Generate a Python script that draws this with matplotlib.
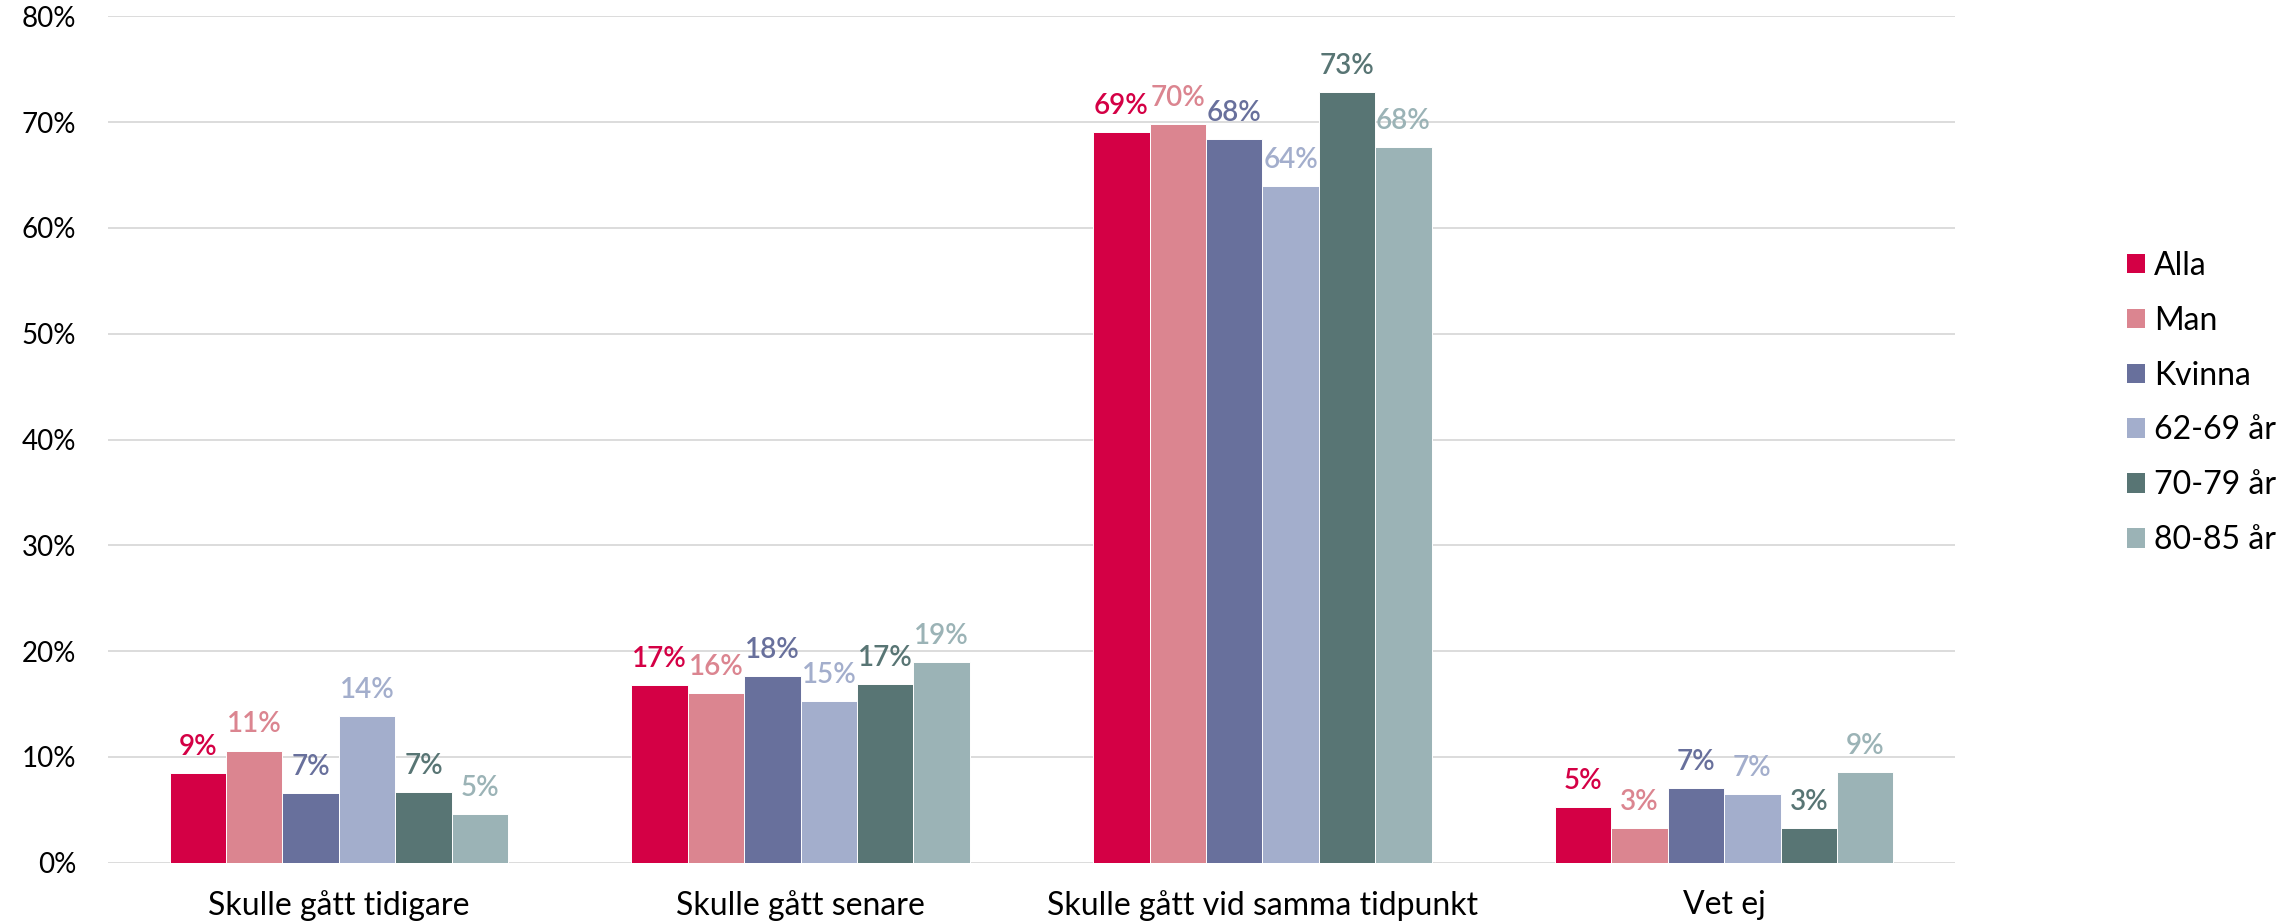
import matplotlib
matplotlib.use("Agg")
import matplotlib.pyplot as plt
import numpy as np
from matplotlib.patches import Patch

categories = ["Skulle gått tidigare", "Skulle gått senare",
              "Skulle gått vid samma tidpunkt", "Vet ej"]
series_names = ["Alla", "Man", "Kvinna", "62-69 år", "70-79 år", "80-85 år"]
colors = ["#D40045", "#DB8590", "#68709C", "#A3AECC", "#587574", "#9BB3B6"]

alla   = [8.5, 16.75, 69.1, 5.3]
man    = [10.6, 16.0, 69.8, 3.3]
kvinna = [6.6, 17.6, 68.4, 7.1]
age_62 = [13.9, 15.3, 64.0, 6.5]
age_70 = [6.7, 16.9, 72.8, 3.3]
age_80 = [4.6, 19.0, 67.6, 8.6]

labels_alla   = ["9%", "17%", "69%", "5%"]
labels_man    = ["11%", "16%", "70%", "3%"]
labels_kvinna = ["7%", "18%", "68%", "7%"]
labels_62     = ["14%", "15%", "64%", "7%"]
labels_70     = ["7%", "17%", "73%", "3%"]
labels_80     = ["5%", "19%", "68%", "9%"]

yticks = [0, 10, 20, 30, 40, 50, 60, 70, 80]
ytick_labels = ["0%", "10%", "20%", "30%", "40%", "50%", "60%", "70%", "80%"]

values = [alla, man, kvinna, age_62, age_70, age_80]
labels = [labels_alla, labels_man, labels_kvinna, labels_62, labels_70, labels_80]

plt.rcParams['font.family'] = ['Lato', 'DejaVu Sans']

fig = plt.figure(figsize=(22.87, 9.24), dpi=100)
ax = fig.add_axes([108/2287, 1 - 862.7/924, (1955-108)/2287, (862.7-16.3)/924])

x = np.arange(len(categories))
bw = 0.733 / 6
for i, (vals, labs, col) in enumerate(zip(values, labels, colors)):
    pos = x - 0.733/2 + bw*(i + 0.5)
    bars = ax.bar(pos, vals, width=bw, color=col, edgecolor='white',
                  linewidth=0.7, zorder=3)
    for b, lab in zip(bars, labs):
        ax.annotate(lab, (b.get_x() + b.get_width()/2, b.get_height()),
                    xytext=(0, 13), textcoords='offset points',
                    ha='center', va='baseline', fontsize=20, color=col,
                    fontweight='semibold', zorder=4)

ax.set_xlim(-0.5, len(categories) - 0.5)
ax.set_ylim(0, 80)
ax.set_yticks(yticks)
ax.set_yticklabels(ytick_labels, fontsize=20)
ax.set_xticks(x)
ax.set_xticklabels(categories, fontsize=23)
ax.tick_params(axis='y', length=0, pad=23)
ax.tick_params(axis='x', length=0, pad=20)
for s in ax.spines.values():
    s.set_visible(False)
ax.yaxis.grid(True, color='#D9D9D9', linewidth=1.3, zorder=0)
ax.set_axisbelow(True)

handles = [Patch(facecolor=c, edgecolor='none') for c in colors]
fig.legend(handles, series_names, loc='center left',
           bbox_to_anchor=(2126.7/2287, 1 - 403/924),
           frameon=False, fontsize=23, handlelength=0.56, handleheight=0.56,
           handletextpad=0.3, labelspacing=0.78, borderpad=0, borderaxespad=0)

fig.savefig("out.png", dpi=100)
